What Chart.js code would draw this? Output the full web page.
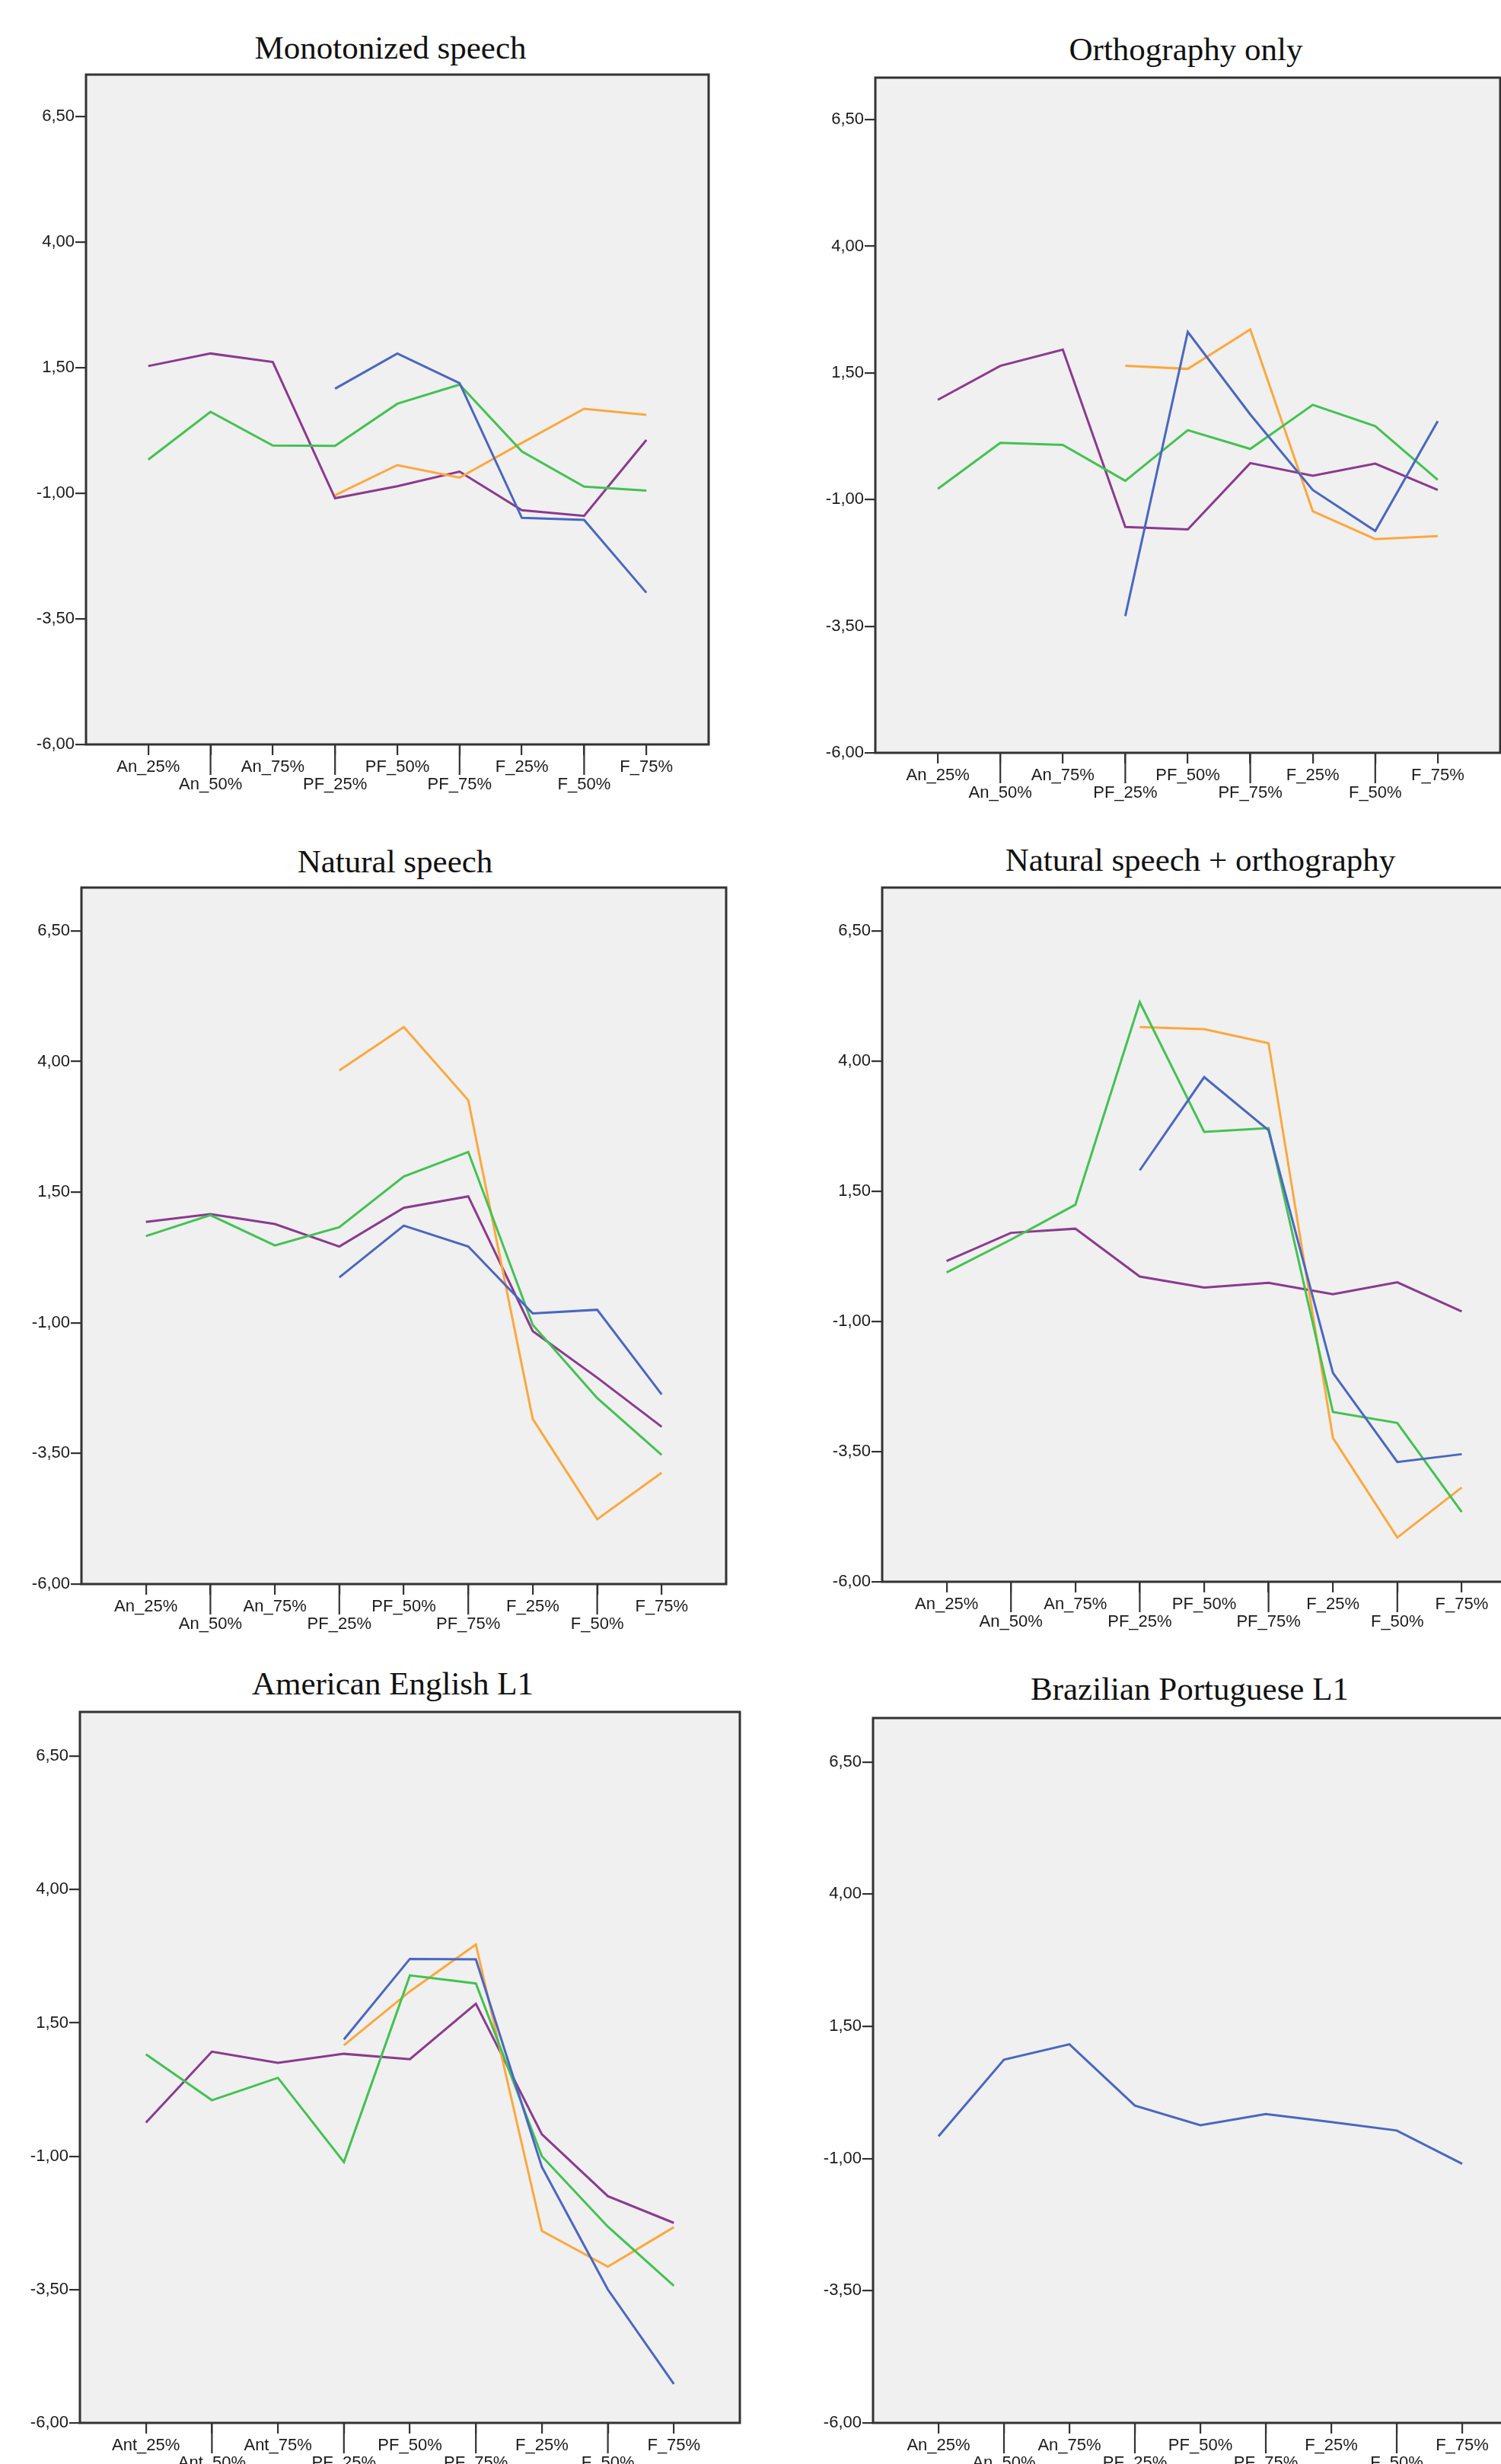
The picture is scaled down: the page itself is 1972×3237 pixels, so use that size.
<!DOCTYPE html>
<html>
<head>
<meta charset="utf-8">
<script src="https://cdn.jsdelivr.net/npm/chart.js@4.4.0/dist/chart.umd.min.js"></script>
<style>
  html, body { margin: 0; padding: 0; background: #fff; overflow: hidden; }
  body { width: 1972px; height: 3237px; position: relative; }
  .ttl { position: absolute; transform: translate(-50%, -50%); white-space: nowrap;
         font-family: 'Liberation Serif', 'Times New Roman', serif; font-size: 43px; line-height: 1; color: #111; }
  .box { position: absolute; }
  .box canvas { display: block; }
</style>
</head>
<body>
<script>
// categories on the x axis
const catsAn = ['An_25%', 'An_50%', 'An_75%', 'PF_25%', 'PF_50%', 'PF_75%', 'F_25%', 'F_50%', 'F_75%'];
const catsAnt = ['Ant_25%', 'Ant_50%', 'Ant_75%', 'PF_25%', 'PF_50%', 'PF_75%', 'F_25%', 'F_50%', 'F_75%'];
const yTicks = [-6, -3.5, -1, 1.5, 4, 6.5];

// Monotonized speech
const monoBlue   = [null, null, null, 1.08, 1.78, 1.19, -1.49, -1.53, -2.98];
const monoGreen  = [-0.33, 0.62, -0.05, -0.06, 0.78, 1.16, -0.17, -0.87, -0.95];
const monoOrange = [null, null, null, -1.04, -0.44, -0.69, 0.0, 0.68, 0.56];
const monoPurple = [1.53, 1.78, 1.61, -1.10, -0.86, -0.57, -1.34, -1.45, 0.06];

// Orthography only
const orthoBlue   = [null, null, null, -3.30, 2.31, 0.68, -0.81, -1.62, 0.55];
const orthoGreen  = [-0.79, 0.12, 0.08, -0.63, 0.37, 0.0, 0.87, 0.45, -0.61];
const orthoOrange = [null, null, null, 1.64, 1.58, 2.36, -1.23, -1.78, -1.72];
const orthoPurple = [0.97, 1.64, 1.96, -1.54, -1.59, -0.28, -0.53, -0.29, -0.81];

// Natural speech
const natBlue   = [null, null, null, -0.13, 0.86, 0.46, -0.82, -0.75, -2.37];
const natGreen  = [0.66, 1.06, 0.48, 0.83, 1.80, 2.27, -1.04, -2.44, -3.53];
const natOrange = [null, null, null, 3.83, 4.66, 3.26, -2.84, -4.76, -3.87];
const natPurple = [0.93, 1.08, 0.89, 0.46, 1.20, 1.42, -1.16, -2.05, -2.99];

// Natural speech + orthography
const nsoBlue   = [null, null, null, 1.90, 3.69, 2.67, -1.99, -3.70, -3.55];
const nsoGreen  = [-0.06, 0.57, 1.24, 5.13, 2.64, 2.71, -2.74, -2.95, -4.66];
const nsoOrange = [null, null, null, 4.65, 4.61, 4.34, -3.24, -5.15, -4.19];
const nsoPurple = [0.16, 0.70, 0.78, -0.14, -0.35, -0.26, -0.48, -0.25, -0.81];

// American English L1
const aeBlue   = [null, null, null, 1.19, 2.70, 2.69, -1.20, -3.50, -5.27];
const aeGreen  = [0.91, 0.05, 0.47, -1.11, 2.39, 2.24, -1.00, -2.32, -3.43];
const aeOrange = [null, null, null, 1.08, 2.09, 2.97, -2.40, -3.07, -2.33];
const aePurple = [-0.37, 0.96, 0.75, 0.92, 0.82, 1.86, -0.59, -1.75, -2.25];

// Brazilian Portuguese L1
const bpBlue = [-0.58, 0.87, 1.16, 0.0, -0.37, -0.16, -0.31, -0.47, -1.10];

const lineColors = ['#4a67c0', '#43c252', '#fca83e', '#8b3a8f'];
const frameColor = '#333';
const Y_MAX = 7.33;
const AXIS_W = 100;   // room for y tick labels
const AXIS_H = 80;    // room for two rows of x labels
const PAD = 16;

// frame = [left, top, right, bottom] of the plot box on the page
const panels = [
  { title: 'Monotonized speech', cats: catsAn, frame: [113, 98, 931, 978], titleAt: [513, 62],
    series: [monoBlue, monoGreen, monoOrange, monoPurple] },
  { title: 'Orthography only', cats: catsAn, frame: [1150, 102, 1971, 989], titleAt: [1558, 64],
    series: [orthoBlue, orthoGreen, orthoOrange, orthoPurple] },
  { title: 'Natural speech', cats: catsAn, frame: [107, 1166, 954, 2081], titleAt: [519, 1131],
    series: [natBlue, natGreen, natOrange, natPurple] },
  { title: 'Natural speech + orthography', cats: catsAn, frame: [1159, 1166, 2005, 2078], titleAt: [1577, 1129],
    series: [nsoBlue, nsoGreen, nsoOrange, nsoPurple] },
  { title: 'American English L1', cats: catsAnt, frame: [105, 2249, 972, 3183], titleAt: [516, 2211],
    series: [aeBlue, aeGreen, aeOrange, aePurple] },
  { title: 'Brazilian Portuguese L1', cats: catsAn, frame: [1147, 2257, 2007, 3183], titleAt: [1563, 2218],
    series: [bpBlue] }
];

// grey plot box with dark frame, plus the long ticks under the staggered labels
const framePlugin = {
  id: 'spssFrame',
  beforeDraw(chart) {
    const a = chart.chartArea, ctx = chart.ctx;
    ctx.save();
    ctx.fillStyle = '#f0f0f0';
    ctx.fillRect(a.left, a.top, a.right - a.left, a.bottom - a.top);
    ctx.restore();
  },
  afterDraw(chart) {
    const a = chart.chartArea, ctx = chart.ctx, xs = chart.scales.x;
    ctx.save();
    ctx.strokeStyle = frameColor;
    ctx.lineWidth = 3;
    ctx.strokeRect(a.left, a.top, a.right - a.left, a.bottom - a.top);
    ctx.lineWidth = 2.2;
    xs.ticks.forEach(t => {
      if (t.value % 2 === 1) {
        const px = xs.getPixelForValue(t.value);
        ctx.beginPath();
        ctx.moveTo(px, a.bottom);
        ctx.lineTo(px, a.bottom + 40);
        ctx.stroke();
      }
    });
    ctx.restore();
  }
};

const tickFont = { family: "'Liberation Sans', Arial, sans-serif", size: 22 };

panels.forEach(p => {
  const [l, t, r, b] = p.frame;

  const ttl = document.createElement('div');
  ttl.className = 'ttl';
  ttl.textContent = p.title;
  ttl.style.left = p.titleAt[0] + 'px';
  ttl.style.top = p.titleAt[1] + 'px';
  document.body.appendChild(ttl);

  const w = (r - l) + AXIS_W + PAD;
  const h = (b - t) + PAD + AXIS_H;
  const box = document.createElement('div');
  box.className = 'box';
  box.style.left = (l - AXIS_W) + 'px';
  box.style.top = (t - PAD) + 'px';
  const canvas = document.createElement('canvas');
  canvas.width = w;
  canvas.height = h;
  box.appendChild(canvas);
  document.body.appendChild(box);

  new Chart(canvas, {
    type: 'line',
    data: {
      labels: p.cats.map((c, i) => i),
      datasets: p.series.map((s, i) => ({
        data: s,
        borderColor: lineColors[i],
        borderWidth: 3,
        pointRadius: 0,
        tension: 0,
        fill: false
      }))
    },
    options: {
      responsive: false,
      animation: false,
      events: [],
      layout: { padding: { top: PAD, right: PAD, left: 0, bottom: 0 } },
      plugins: { legend: { display: false }, tooltip: { enabled: false }, title: { display: false } },
      scales: {
        x: {
          type: 'linear',
          min: -1,
          max: 9,
          afterBuildTicks: sc => { sc.ticks = p.cats.map((c, i) => ({ value: i })); },
          afterFit: sc => { sc.height = AXIS_H; },
          border: { display: false },
          grid: { drawOnChartArea: false, drawTicks: true, tickLength: 14, color: frameColor, lineWidth: 2.2 },
          ticks: {
            autoSkip: false, maxRotation: 0, minRotation: 0, padding: 5,
            color: '#1a1a1a', font: { ...tickFont, lineHeight: 1.02 },
            callback: v => (v % 2 === 1 ? ['', p.cats[v]] : p.cats[v])
          }
        },
        y: {
          min: -6,
          max: Y_MAX,
          afterBuildTicks: sc => { sc.ticks = yTicks.map(v => ({ value: v })); },
          afterFit: sc => { sc.width = AXIS_W; },
          border: { display: false },
          grid: { drawOnChartArea: false, drawTicks: true, tickLength: 14, color: frameColor, lineWidth: 2.2 },
          ticks: {
            padding: 1, color: '#1a1a1a', font: tickFont,
            callback: v => v.toFixed(2).replace('.', ',')
          }
        }
      }
    },
    plugins: [framePlugin]
  });
});
</script>
</body>
</html>
